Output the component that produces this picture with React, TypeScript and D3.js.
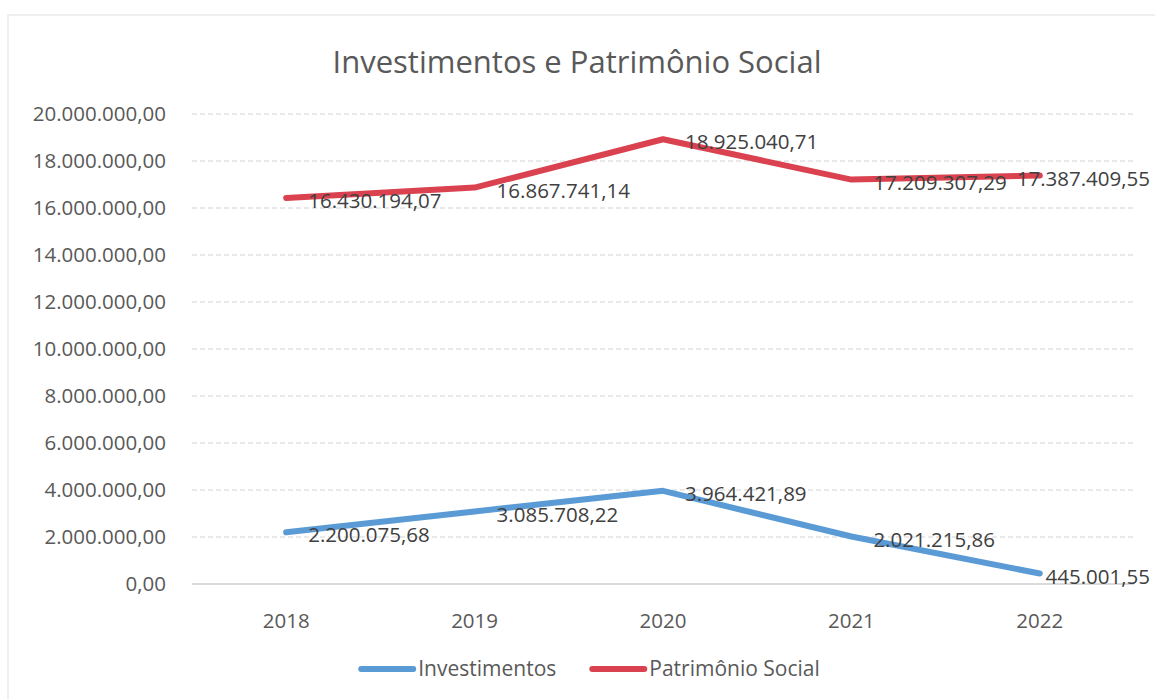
import React, { useEffect, useRef } from "react";
import * as d3 from "d3";

const years = ["2018", "2019", "2020", "2021", "2022"];
const investimentos = [2200075.68, 3085708.22, 3964421.89, 2021215.86, 445001.55];
const patrimonio = [16430194.07, 16867741.14, 18925040.71, 17209307.29, 17387409.55];
const yTicks = [0, 2000000, 4000000, 6000000, 8000000, 10000000, 12000000, 14000000, 16000000, 18000000, 20000000];
const seriesNames = ["Investimentos", "Patrimônio Social"];
const seriesColors = ["#5b9bd5", "#d9424e"];
const chartTitle = "Investimentos e Patrimônio Social";

const W = 1155;
const H = 699;
const FONT = "'Open Sans', 'Noto Sans', sans-serif";

export default function App() {
  const ref = useRef<SVGSVGElement | null>(null);

  useEffect(() => {
    const svg = d3.select(ref.current);
    svg.selectAll("*").remove();

    const locale = d3.formatLocale({ decimal: ",", thousands: ".", grouping: [3], currency: ["R$", ""] });
    const fmt = locale.format(",.2f");

    const left = 192, right = 1134, top = 114, bottom = 584;
    const x = d3.scaleBand().domain(years).range([left, right]);
    const cx = (d: string) => (x(d) as number) + x.bandwidth() / 2;
    const y = d3.scaleLinear().domain([0, 20000000]).range([bottom, top]);

    svg.append("rect").attr("x", 0).attr("y", 0).attr("width", W).attr("height", H).attr("fill", "#ffffff");
    svg.append("rect").attr("x", 8).attr("y", 15).attr("width", 1300).attr("height", 900)
      .attr("fill", "none").attr("stroke", "#e4e4e4").attr("stroke-width", 1.2);

    // title
    svg.append("text").attr("x", 577).attr("y", 73).attr("text-anchor", "middle")
      .attr("font-family", FONT).attr("font-size", 31).attr("fill", "#595959").text(chartTitle);

    // gridlines
    const g = svg.append("g");
    yTicks.forEach((t) => {
      g.append("line").attr("x1", left).attr("x2", right).attr("y1", y(t)).attr("y2", y(t))
        .attr("stroke", t === 0 ? "#cfcfcf" : "#e2e2e2")
        .attr("stroke-width", t === 0 ? 1.6 : 1.3)
        .attr("stroke-dasharray", t === 0 ? null : "5,3");
      g.append("text").attr("x", 166).attr("y", y(t)).attr("dy", "0.35em").attr("text-anchor", "end")
        .attr("font-family", FONT).attr("font-size", 20.5).attr("fill", "#595959").text(fmt(t));
    });

    // x labels
    years.forEach((yr) => {
      g.append("text").attr("x", cx(yr)).attr("y", 621).attr("dy", "0.35em").attr("text-anchor", "middle")
        .attr("font-family", FONT).attr("font-size", 20.5).attr("fill", "#595959").text(yr);
    });

    const allSeries = [investimentos, patrimonio];
    const line = d3.line<number>().x((_, i) => cx(years[i])).y((v) => y(v));

    allSeries.forEach((vals, si) => {
      svg.append("path").attr("d", line(vals) as string).attr("fill", "none")
        .attr("stroke", seriesColors[si]).attr("stroke-width", 6)
        .attr("stroke-linecap", "round").attr("stroke-linejoin", "round");
    });

    const rightLimit = 1150;
    allSeries.forEach((vals) => {
      vals.forEach((v, i) => {
        const px = cx(years[i]);
        const t = svg.append("text").attr("y", y(v) + 3).attr("dy", "0.35em")
          .attr("font-family", FONT).attr("font-size", 20.5).attr("fill", "#404040").text(fmt(v));
        const w = (t.node() as SVGTextElement).getComputedTextLength();
        const sx = Math.min(px + 22, rightLimit - w);
        t.attr("x", sx);
      });
    });

    // legend
    const legY = 669;
    const sw = 58;
    const items = seriesNames.map((name, i) => {
      const t = svg.append("text").attr("y", legY).attr("dy", "0.35em")
        .attr("font-family", FONT).attr("font-size", 21).attr("fill", "#595959").text(name);
      return { t, w: (t.node() as SVGTextElement).getComputedTextLength(), i };
    });
    const gap = 33;
    const total = items.reduce((s, it) => s + sw + 2 + it.w, 0) + gap * (items.length - 1);
    let lx = 589 - total / 2;
    items.forEach((it) => {
      svg.append("line").attr("x1", lx + 3).attr("x2", lx + sw - 3).attr("y1", legY).attr("y2", legY)
        .attr("stroke", seriesColors[it.i]).attr("stroke-width", 6).attr("stroke-linecap", "round");
      it.t.attr("x", lx + sw + 2);
      lx += sw + 2 + it.w + gap;
    });
  }, []);

  return (
    <svg ref={ref} width={W} height={H} style={{ position: "absolute", left: 0, top: 0, display: "block" }} />
  );
}
